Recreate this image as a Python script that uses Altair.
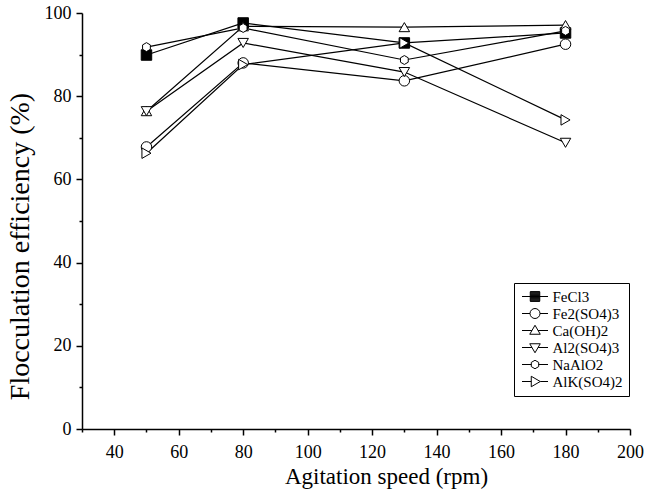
import altair as alt
import pandas as pd

speeds = [50, 80, 130, 180]
series_names = ["FeCl3", "Fe2(SO4)3", "Ca(OH)2", "Al2(SO4)3", "NaAlO2", "AlK(SO4)2"]
fecl3 = [89.9, 97.6, 92.8, 95.2]
fe2so43 = [67.8, 88.0, 83.7, 92.5]
caoh2 = [76.4, 96.8, 96.6, 97.1]
al2so43 = [76.4, 92.8, 85.8, 68.8]
naalo2 = [91.8, 96.4, 88.7, 95.7]
alkso42 = [66.3, 87.6, 92.8, 74.3]

values = [fecl3, fe2so43, caoh2, al2so43, naalo2, alkso42]
rows = []
for name, vals in zip(series_names, values):
    for s, v in zip(speeds, vals):
        rows.append({"speed": s, "eff": v, "series": name})
df = pd.DataFrame(rows)

fills = ["black", "white", "white", "white", "white", "white"]
hexagon = "M0,-0.85L0.74,-0.42L0.74,0.42L0,0.85L-0.74,0.42L-0.74,-0.42Z"
point_shapes = ["square", "circle", "triangle-up", "triangle-down", hexagon, "triangle-right"]

# legend symbols: line stub through a small outline shape (square hatched solid)
sq = "M-2.6,0H2.6M-0.95,-0.95H0.95V0.95H-0.95Z" + "".join(
    "M-0.95,%.3fH0.95" % (-0.95 + 0.19 * i) for i in range(11)
)
legend_shapes = [
    sq,
    "M-2.6,0H-1M1,0H2.6M1,0A1,1 0 1,1 -1,0A1,1 0 1,1 1,0Z",
    "M-2.6,0H-0.61M0.61,0H2.6M0,-1.05L1.05,0.75L-1.05,0.75Z",
    "M-2.6,0H-0.61M0.61,0H2.6M0,1.05L1.05,-0.75L-1.05,-0.75Z",
    "M-2.6,0H-0.74M0.74,0H2.6M0,-0.85L0.74,-0.42L0.74,0.42L0,0.85L-0.74,0.42L-0.74,-0.42Z",
    "M-2.6,0H-0.75M1.05,0H2.6M-0.75,-1.05L1.05,0L-0.75,1.05Z",
]

x_enc = alt.X(
    "speed:Q",
    scale=alt.Scale(domain=[30, 200], nice=False, zero=False),
    axis=alt.Axis(
        values=list(range(30, 201, 10)),
        tickCount=40,
        labelExpr="(datum.value % 20 == 0) ? format(datum.value, 'd') : ''",
        labelOverlap=False,
        labelFlush=False,
        tickSize={"condition": {"test": "datum.value % 20 != 0", "value": 3}, "value": 6},
        title="Agitation speed (rpm)",
        titleX=304,
        titleY=36,
        titleBaseline="top",
        labelPadding=8,
    ),
)
y_enc = alt.Y(
    "eff:Q",
    scale=alt.Scale(domain=[0, 100], nice=False),
    axis=alt.Axis(
        values=list(range(0, 101, 10)),
        tickCount=40,
        labelExpr="(datum.value % 20 == 0) ? format(datum.value, 'd') : ''",
        labelOverlap=False,
        tickSize={"condition": {"test": "datum.value % 20 != 0", "value": 3}, "value": 6},
        title="Flocculation efficiency (%)",
        titleY=233,
        titlePadding=10,
        labelPadding=5,
    ),
)

lines = alt.Chart(df).mark_line(color="black", strokeWidth=1.2).encode(
    x=x_enc, y=y_enc, detail="series:N"
)

points = alt.Chart(df).mark_point(filled=True, stroke="black", strokeWidth=1, size=110, opacity=1).encode(
    x="speed:Q",
    y="eff:Q",
    shape=alt.Shape("series:N", scale=alt.Scale(domain=series_names, range=point_shapes), legend=None),
    fill=alt.Fill("series:N", scale=alt.Scale(domain=series_names, range=fills), legend=None),
)

legend_layer = alt.Chart(df).transform_calculate(lg="datum.series").mark_point(
    filled=False, color="black", strokeWidth=1, opacity=0
).encode(
    x="speed:Q",
    y="eff:Q",
    shape=alt.Shape(
        "lg:N",
        scale=alt.Scale(domain=series_names, range=legend_shapes),
        legend=alt.Legend(
            title=None,
            orient="none",
            legendX=432,
            legendY=270,
            symbolSize=100,
            symbolOffset=7.5,
            symbolOpacity=1,
            symbolStrokeColor="black",
            symbolStrokeWidth=1,
            labelFont="Liberation Serif",
            labelFontSize=15,
            labelColor="black",
            labelOffset=10,
            rowPadding=1,
            padding=6,
            strokeColor="black",
            fillColor="white",
        ),
    ),
)

chart = alt.layer(lines, legend_layer, points).resolve_scale(
    shape="independent", fill="independent"
).properties(
    width=548,
    height=416,
    autosize=alt.AutoSizeParams(type="none"),
    padding={"left": 82, "top": 13, "right": 29, "bottom": 65},
    background="white",
).configure_view(stroke=None).configure_axis(
    domainColor="black",
    domainWidth=1.5,
    tickColor="black",
    tickWidth=1.5,
    grid=False,
    labelFont="Liberation Serif",
    labelFontSize=18,
    labelColor="black",
    titleFont="Liberation Serif",
    titleFontSize=23,
    titleFontWeight="normal",
    titleColor="black",
).configure_axisY(titleFontSize=28).configure_legend(
    labelFont="Liberation Serif", labelFontSize=15, labelColor="black"
)

chart.save("out.html", embed_options={"renderer": "svg", "actions": False})
